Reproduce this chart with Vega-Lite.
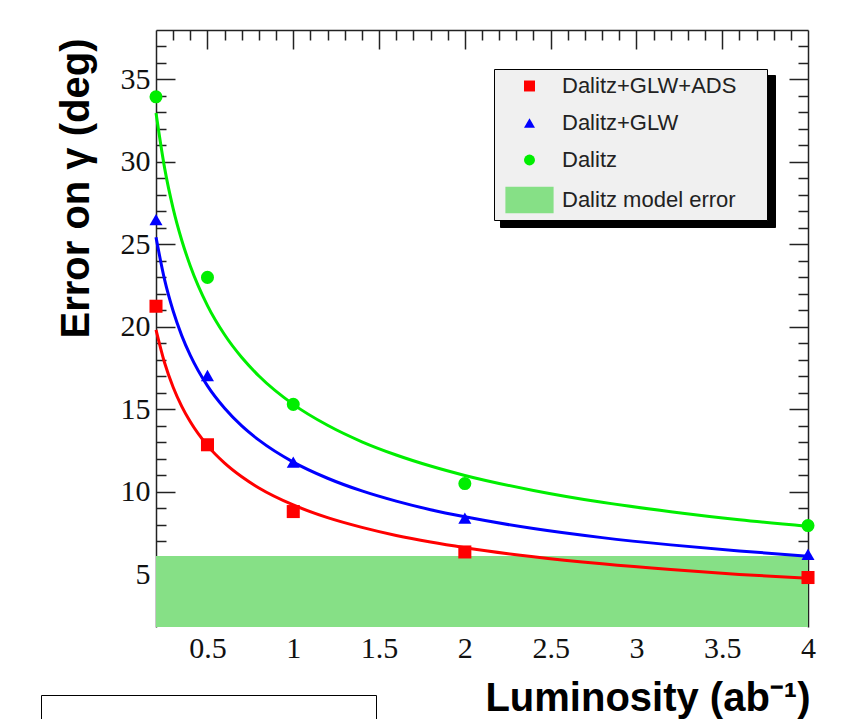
{
  "$schema": "https://vega.github.io/schema/vega-lite/v6.json",
  "width": 652,
  "height": 597,
  "autosize": {"type": "none"},
  "padding": {"left": 156, "top": 30, "right": 38, "bottom": 92},
  "background": "white",
  "config": {"view": {"stroke": null}, "axis": {"grid": false}},
  "datasets": {
    "band": [{"x0": 0.2, "x1": 4, "lo": 0, "hi": 6.1, "series": "Dalitz model error"}],
    "points": [
      {"L": 0.2, "err": 21.25, "series": "Dalitz+GLW+ADS"},
      {"L": 0.5, "err": 12.85, "series": "Dalitz+GLW+ADS"},
      {"L": 1, "err": 8.8, "series": "Dalitz+GLW+ADS"},
      {"L": 2, "err": 6.35, "series": "Dalitz+GLW+ADS"},
      {"L": 4, "err": 4.8, "series": "Dalitz+GLW+ADS"},
      {"L": 0.2, "err": 26.5, "series": "Dalitz+GLW"},
      {"L": 0.5, "err": 17.05, "series": "Dalitz+GLW"},
      {"L": 1, "err": 11.8, "series": "Dalitz+GLW"},
      {"L": 2, "err": 8.4, "series": "Dalitz+GLW"},
      {"L": 4, "err": 6.2, "series": "Dalitz+GLW"},
      {"L": 0.2, "err": 33.95, "series": "Dalitz"},
      {"L": 0.5, "err": 23.0, "series": "Dalitz"},
      {"L": 1, "err": 15.3, "series": "Dalitz"},
      {"L": 2, "err": 10.5, "series": "Dalitz"},
      {"L": 4, "err": 7.95, "series": "Dalitz"}
    ],
    "curves": [
      {"L": 0.2, "err": 19.82, "series": "Dalitz+GLW+ADS"},
      {"L": 0.25, "err": 17.82, "series": "Dalitz+GLW+ADS"},
      {"L": 0.3, "err": 16.34, "series": "Dalitz+GLW+ADS"},
      {"L": 0.35, "err": 15.18, "series": "Dalitz+GLW+ADS"},
      {"L": 0.4, "err": 14.24, "series": "Dalitz+GLW+ADS"},
      {"L": 0.5, "err": 12.8, "series": "Dalitz+GLW+ADS"},
      {"L": 0.6, "err": 11.74, "series": "Dalitz+GLW+ADS"},
      {"L": 0.7, "err": 10.91, "series": "Dalitz+GLW+ADS"},
      {"L": 0.8, "err": 10.23, "series": "Dalitz+GLW+ADS"},
      {"L": 1.0, "err": 9.2, "series": "Dalitz+GLW+ADS"},
      {"L": 1.2, "err": 8.43, "series": "Dalitz+GLW+ADS"},
      {"L": 1.4, "err": 7.84, "series": "Dalitz+GLW+ADS"},
      {"L": 1.6, "err": 7.35, "series": "Dalitz+GLW+ADS"},
      {"L": 1.8, "err": 6.95, "series": "Dalitz+GLW+ADS"},
      {"L": 2.0, "err": 6.61, "series": "Dalitz+GLW+ADS"},
      {"L": 2.4, "err": 6.06, "series": "Dalitz+GLW+ADS"},
      {"L": 2.8, "err": 5.63, "series": "Dalitz+GLW+ADS"},
      {"L": 3.2, "err": 5.28, "series": "Dalitz+GLW+ADS"},
      {"L": 3.6, "err": 4.99, "series": "Dalitz+GLW+ADS"},
      {"L": 4.0, "err": 4.75, "series": "Dalitz+GLW+ADS"},
      {"L": 0.2, "err": 25.43, "series": "Dalitz+GLW"},
      {"L": 0.25, "err": 22.86, "series": "Dalitz+GLW"},
      {"L": 0.3, "err": 20.96, "series": "Dalitz+GLW"},
      {"L": 0.35, "err": 19.47, "series": "Dalitz+GLW"},
      {"L": 0.4, "err": 18.27, "series": "Dalitz+GLW"},
      {"L": 0.5, "err": 16.42, "series": "Dalitz+GLW"},
      {"L": 0.6, "err": 15.06, "series": "Dalitz+GLW"},
      {"L": 0.7, "err": 13.99, "series": "Dalitz+GLW"},
      {"L": 0.8, "err": 13.13, "series": "Dalitz+GLW"},
      {"L": 1.0, "err": 11.8, "series": "Dalitz+GLW"},
      {"L": 1.2, "err": 10.82, "series": "Dalitz+GLW"},
      {"L": 1.4, "err": 10.05, "series": "Dalitz+GLW"},
      {"L": 1.6, "err": 9.43, "series": "Dalitz+GLW"},
      {"L": 1.8, "err": 8.91, "series": "Dalitz+GLW"},
      {"L": 2.0, "err": 8.48, "series": "Dalitz+GLW"},
      {"L": 2.4, "err": 7.77, "series": "Dalitz+GLW"},
      {"L": 2.8, "err": 7.22, "series": "Dalitz+GLW"},
      {"L": 3.2, "err": 6.78, "series": "Dalitz+GLW"},
      {"L": 3.6, "err": 6.41, "series": "Dalitz+GLW"},
      {"L": 4.0, "err": 6.09, "series": "Dalitz+GLW"},
      {"L": 0.2, "err": 32.97, "series": "Dalitz"},
      {"L": 0.25, "err": 29.64, "series": "Dalitz"},
      {"L": 0.3, "err": 27.17, "series": "Dalitz"},
      {"L": 0.35, "err": 25.25, "series": "Dalitz"},
      {"L": 0.4, "err": 23.69, "series": "Dalitz"},
      {"L": 0.5, "err": 21.29, "series": "Dalitz"},
      {"L": 0.6, "err": 19.52, "series": "Dalitz"},
      {"L": 0.7, "err": 18.14, "series": "Dalitz"},
      {"L": 0.8, "err": 17.02, "series": "Dalitz"},
      {"L": 1.0, "err": 15.3, "series": "Dalitz"},
      {"L": 1.2, "err": 14.03, "series": "Dalitz"},
      {"L": 1.4, "err": 13.03, "series": "Dalitz"},
      {"L": 1.6, "err": 12.23, "series": "Dalitz"},
      {"L": 1.8, "err": 11.56, "series": "Dalitz"},
      {"L": 2.0, "err": 10.99, "series": "Dalitz"},
      {"L": 2.4, "err": 10.08, "series": "Dalitz"},
      {"L": 2.8, "err": 9.36, "series": "Dalitz"},
      {"L": 3.2, "err": 8.79, "series": "Dalitz"},
      {"L": 3.6, "err": 8.3, "series": "Dalitz"},
      {"L": 4.0, "err": 7.9, "series": "Dalitz"}
    ]
  },
  "layer": [
    {
      "data": {"name": "band"},
      "mark": {"type": "rect", "color": "#86e086", "clip": true},
      "encoding": {
        "x": {"field": "x0", "type": "quantitative", "scale": {"domain": [0.2, 4], "nice": false, "zero": false}, "axis": null},
        "x2": {"field": "x1"},
        "y": {"field": "lo", "type": "quantitative", "scale": {"domain": [1.8, 38], "nice": false, "zero": false}, "axis": null},
        "y2": {"field": "hi"},
        "opacity": {
          "field": "series", "type": "ordinal",
          "scale": {"range": [1, 1]},
          "legend": {
            "title": null, "orient": "none", "legendX": -115, "legendY": 665,
            "fillColor": "white", "strokeColor": "black", "padding": 10,
            "symbolSize": 0, "symbolStrokeWidth": 0, "labelOffset": 0,
            "labelColor": "transparent", "labelFont": "Liberation Sans", "labelFontSize": 30,
            "labelExpr": "pad('', 19, 'x')", "labelLimit": 600,
            "encode": {"legend": {"strokeWidth": {"value": 2}}}
          }
        }
      }
    },
    {
      "data": {"name": "curves"},
      "mark": {"type": "line", "strokeWidth": 3, "interpolate": "monotone"},
      "encoding": {
        "x": {
          "field": "L", "type": "quantitative",
          "scale": {"domain": [0.2, 4], "nice": false, "zero": false},
          "axis": {
            "orient": "top", "title": null, "labels": false,
            "values": [0.3,0.4,0.5,0.6,0.7,0.8,0.9,1,1.1,1.2,1.3,1.4,1.5,1.6,1.7,1.8,1.9,2,2.1,2.2,2.3,2.4,2.5,2.6,2.7,2.8,2.9,3,3.1,3.2,3.3,3.4,3.5,3.6,3.7,3.8,3.9],
            "tickSize": {"condition": {"test": "abs(datum.value*2 - round(datum.value*2)) < 0.001", "value": -19}, "value": -10},
            "tickColor": "#222", "tickWidth": 1.5, "domainColor": "#222", "domainWidth": 1.5
          }
        },
        "y": {
          "field": "err", "type": "quantitative",
          "scale": {"domain": [1.8, 38], "nice": false, "zero": false},
          "axis": {
            "orient": "right", "title": null, "labels": false,
            "values": [2,3,4,5,6,7,8,9,10,11,12,13,14,15,16,17,18,19,20,21,22,23,24,25,26,27,28,29,30,31,32,33,34,35,36,37],
            "tickSize": {"condition": {"test": "datum.value % 5 === 0", "value": -19}, "value": -10},
            "tickColor": "#222", "tickWidth": 1.5, "domainColor": "#222", "domainWidth": 1.5
          }
        },
        "stroke": {
          "field": "series", "type": "nominal",
          "scale": {"domain": ["Dalitz+GLW+ADS", "Dalitz+GLW", "Dalitz"], "range": ["#ff0000", "#0000ff", "#00ee00"]},
          "legend": {
            "title": null, "orient": "none", "legendX": 344, "legendY": 45, "direction": "vertical", "zindex": 0,
            "fillColor": "black", "strokeColor": "black", "padding": 0,
            "labelFont": "Liberation Sans", "labelFontSize": 22, "labelColor": "transparent", "labelLimit": 600,
            "labelOffset": 0, "symbolOffset": 0, "rowPadding": 43, "symbolSize": 0, "symbolStrokeWidth": 0, "symbolOpacity": 0,
            "labelExpr": "pad('', 23, 'x')"
          }
        }
      }
    },
    {
      "data": {"name": "points"},
      "mark": {"type": "point", "filled": true, "opacity": 1, "size": 170},
      "encoding": {
        "x": {
          "field": "L", "type": "quantitative",
          "scale": {"domain": [0.2, 4], "nice": false, "zero": false},
          "axis": {
            "orient": "bottom", "values": [0.5,1,1.5,2,2.5,3,3.5,4],
            "ticks": false, "domain": false, "labelFlush": false,
            "labelExpr": "'' + datum.value",
            "labelFont": "Liberation Serif", "labelFontSize": 30, "labelColor": "#111", "labelPadding": 6,
            "title": "Luminosity (ab⁻¹)", "titleFont": "Liberation Sans", "titleFontSize": 40, "titleFontWeight": "bold", "titleColor": "black",
            "titleAnchor": "end", "titleAlign": "right", "titleBaseline": "alphabetic", "titleX": 654, "titleY": 83
          }
        },
        "y": {
          "field": "err", "type": "quantitative",
          "scale": {"domain": [1.8, 38], "nice": false, "zero": false},
          "axis": {
            "orient": "left",
            "values": [2,3,4,5,6,7,8,9,10,11,12,13,14,15,16,17,18,19,20,21,22,23,24,25,26,27,28,29,30,31,32,33,34,35,36,37],
            "tickSize": {"condition": {"test": "datum.value % 5 === 0", "value": -19}, "value": -10},
            "labelExpr": "datum.value % 5 === 0 ? '' + datum.value : ''",
            "labelFont": "Liberation Serif", "labelFontSize": 30, "labelColor": "#111", "labelPadding": 25,
            "tickColor": "#222", "tickWidth": 1.5, "domainColor": "#222", "domainWidth": 1.5,
            "title": "Error on γ (deg)", "titleFont": "Liberation Sans", "titleFontSize": 40, "titleFontWeight": "bold", "titleColor": "black",
            "titleAnchor": "end", "titleAlign": "right", "titleBaseline": "alphabetic", "titleAngle": -90, "titleX": -68, "titleY": 8
          }
        },
        "color": {
          "field": "series", "type": "nominal",
          "scale": {"domain": ["Dalitz+GLW+ADS", "Dalitz+GLW", "Dalitz", "Dalitz model error"], "range": ["#ff0000", "#0000ff", "#00ee00", "#86e086"]},
          "legend": {
            "title": null, "orient": "none", "legendX": 338, "legendY": 39, "direction": "vertical", "zindex": 1,
            "fillColor": "#f0f0f0", "strokeColor": "black", "padding": 6,
            "labelFont": "Liberation Sans", "labelFontSize": 22, "labelColor": "#222", "labelLimit": 500,
            "labelOffset": 21.5, "symbolOffset": 18.5, "rowPadding": 15, "symbolSize": 120,
            "labelExpr": "datum.label + '    \u200b'",
            "encode": {"legend": {"strokeWidth": {"value": 1.5}}}
          }
        },
        "shape": {
          "field": "series", "type": "nominal",
          "scale": {"domain": ["Dalitz+GLW+ADS", "Dalitz+GLW", "Dalitz", "Dalitz model error"], "range": ["square", "triangle-up", "circle", "M-4.4,-2.4H4.4V2.4H-4.4Z"]}
        }
      }
    }
  ],
  "resolve": {"axis": {"x": "independent", "y": "independent"}}
}
